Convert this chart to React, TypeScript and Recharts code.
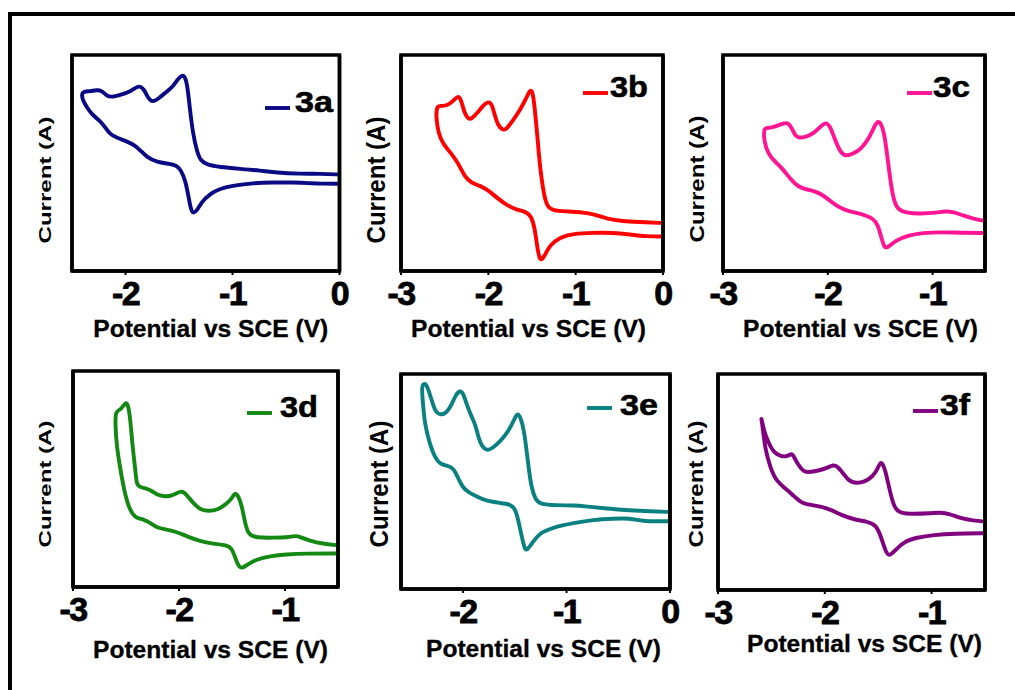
import React from 'react';
import { LineChart, Line, XAxis, YAxis, ReferenceArea } from 'recharts';

const FONT = '"Liberation Sans", Arial, Helvetica, sans-serif';

// ---------- data (potential in V vs SCE, current in arbitrary units) ----------
const potential3a = [0, -0.18, -0.37, -0.59, -0.74, -0.93, -1.12, -1.24, -1.30, -1.33, -1.37, -1.40, -1.42, -1.44, -1.47, -1.51, -1.55, -1.62, -1.68, -1.73, -1.77, -1.80, -1.83, -1.87, -1.91, -1.97, -2.05, -2.13, -2.18, -2.22, -2.27, -2.33, -2.39, -2.41, -2.40, -2.36, -2.32, -2.24, -2.19, -2.15, -2.08, -1.99, -1.91, -1.86, -1.80, -1.71, -1.58, -1.52, -1.48, -1.44, -1.41, -1.39, -1.37, -1.33, -1.29, -1.21, -1.12, -0.99, -0.81, -0.62, -0.43, -0.28, -0.18, 0];
const current3a = [44.7, 45.0, 45.0, 45.5, 46.5, 47.3, 48.1, 49.2, 51.2, 55.0, 63.5, 75.8, 85.1, 89.7, 90.9, 88.9, 85.8, 82.7, 80.4, 78.4, 78.9, 81.2, 84.3, 85.8, 84.7, 82.7, 81.5, 80.4, 81.2, 83.5, 83.8, 83.2, 83.1, 82.0, 78.9, 75.8, 72.7, 69.6, 66.6, 63.5, 61.6, 60.1, 58.1, 55.8, 52.7, 50.4, 49.6, 48.8, 46.5, 41.9, 34.2, 28.8, 26.5, 28.0, 31.9, 35.7, 38.1, 39.6, 40.7, 41.0, 41.0, 40.7, 40.4, 40.4];

const potential3b = [0, -0.27, -0.46, -0.65, -0.80, -0.95, -1.11, -1.26, -1.32, -1.36, -1.41, -1.44, -1.47, -1.49, -1.52, -1.56, -1.64, -1.72, -1.79, -1.83, -1.89, -1.93, -1.96, -2.00, -2.06, -2.12, -2.19, -2.23, -2.27, -2.31, -2.34, -2.38, -2.44, -2.52, -2.59, -2.60, -2.57, -2.52, -2.42, -2.34, -2.27, -2.19, -2.10, -2.00, -1.91, -1.79, -1.68, -1.56, -1.51, -1.47, -1.44, -1.41, -1.36, -1.30, -1.18, -1.03, -0.80, -0.57, -0.38, -0.19, 0];
const current3b = [22.2, 22.7, 23.0, 24.2, 26.5, 27.3, 27.6, 28.0, 29.6, 34.2, 48.1, 63.5, 75.8, 82.7, 84.3, 80.4, 74.3, 69.6, 65.8, 65.0, 67.3, 72.7, 77.3, 78.6, 76.6, 73.5, 70.4, 70.4, 72.7, 78.9, 81.2, 79.7, 77.3, 76.1, 77.0, 71.2, 63.5, 58.9, 54.2, 49.6, 43.5, 40.7, 39.6, 37.3, 34.2, 30.4, 28.4, 27.3, 25.3, 20.3, 11.1, 4.2, 6.5, 11.9, 15.7, 17.3, 17.7, 17.7, 16.9, 16.0, 16.0];

const potential3c = [-0.50, -0.61, -0.71, -0.80, -0.88, -0.96, -1.12, -1.24, -1.34, -1.38, -1.42, -1.45, -1.48, -1.52, -1.56, -1.60, -1.68, -1.76, -1.84, -1.89, -1.94, -1.98, -2.02, -2.06, -2.14, -2.22, -2.28, -2.31, -2.34, -2.38, -2.43, -2.50, -2.57, -2.61, -2.61, -2.57, -2.50, -2.43, -2.36, -2.28, -2.19, -2.09, -2.00, -1.90, -1.81, -1.68, -1.56, -1.52, -1.49, -1.46, -1.42, -1.35, -1.24, -1.09, -0.93, -0.74, -0.50];
const current3c = [23.1, 24.2, 25.7, 27.3, 27.7, 27.0, 26.5, 26.8, 28.4, 34.2, 48.1, 60.4, 67.3, 70.0, 66.6, 61.9, 56.5, 54.2, 53.0, 55.8, 61.9, 67.3, 68.9, 67.3, 63.5, 61.9, 61.6, 62.7, 65.8, 68.9, 68.2, 66.9, 66.1, 66.3, 60.4, 54.2, 50.4, 47.3, 42.7, 38.8, 37.6, 36.5, 33.4, 29.6, 27.7, 26.5, 24.2, 21.1, 15.7, 10.3, 11.1, 14.2, 16.5, 17.7, 18.0, 17.7, 17.6];

const potential3d = [-0.52, -0.64, -0.77, -0.86, -0.89, -0.95, -1.11, -1.27, -1.35, -1.38, -1.41, -1.44, -1.47, -1.50, -1.55, -1.63, -1.72, -1.80, -1.86, -1.93, -1.97, -2.02, -2.08, -2.15, -2.21, -2.26, -2.30, -2.37, -2.40, -2.41, -2.44, -2.46, -2.48, -2.50, -2.52, -2.55, -2.60, -2.60, -2.59, -2.55, -2.51, -2.46, -2.41, -2.33, -2.27, -2.21, -2.12, -2.02, -1.93, -1.80, -1.68, -1.55, -1.50, -1.47, -1.44, -1.41, -1.36, -1.27, -1.14, -0.99, -0.80, -0.52];
const current3d = [19.4, 20.0, 21.5, 23.1, 23.8, 23.1, 22.8, 22.8, 24.3, 30.5, 38.2, 42.0, 43.8, 41.2, 38.5, 35.8, 35.1, 35.8, 38.5, 42.8, 44.6, 43.5, 42.0, 42.0, 42.8, 44.6, 45.5, 46.2, 47.4, 53.5, 65.8, 78.2, 84.3, 85.5, 84.3, 82.0, 81.5, 75.1, 65.8, 53.5, 42.8, 35.1, 32.0, 31.2, 29.7, 27.4, 26.6, 25.5, 23.5, 21.2, 20.0, 19.4, 17.8, 13.5, 9.7, 8.5, 10.2, 12.8, 14.3, 15.1, 15.5, 15.5];

const potential3e = [0, -0.19, -0.39, -0.61, -0.81, -0.93, -1.10, -1.26, -1.30, -1.34, -1.37, -1.40, -1.43, -1.47, -1.50, -1.56, -1.64, -1.72, -1.77, -1.82, -1.85, -1.88, -1.92, -1.97, -2.00, -2.03, -2.07, -2.11, -2.16, -2.22, -2.27, -2.30, -2.34, -2.36, -2.38, -2.40, -2.39, -2.37, -2.32, -2.27, -2.22, -2.16, -2.09, -2.05, -2.00, -1.95, -1.87, -1.77, -1.64, -1.55, -1.50, -1.47, -1.43, -1.40, -1.37, -1.32, -1.26, -1.13, -0.93, -0.74, -0.55, -0.39, -0.26, -0.13, 0];
const current3e = [35.8, 36.1, 36.6, 37.4, 38.4, 38.9, 38.9, 39.5, 41.6, 47.0, 57.8, 70.2, 78.0, 82.3, 79.5, 73.3, 68.7, 65.3, 64.3, 66.4, 70.2, 76.4, 80.3, 86.5, 91.2, 92.4, 90.4, 85.7, 81.9, 80.8, 82.6, 87.3, 93.5, 95.3, 95.5, 94.3, 87.3, 76.4, 67.1, 60.9, 58.1, 57.5, 56.3, 51.6, 47.0, 45.1, 43.1, 40.8, 40.0, 39.5, 37.7, 33.0, 23.7, 17.5, 18.8, 22.2, 26.0, 28.7, 30.7, 32.2, 32.7, 33.0, 31.5, 31.5, 31.5];

const potential3f = [-0.50, -0.61, -0.73, -0.83, -0.92, -1.01, -1.17, -1.29, -1.35, -1.39, -1.43, -1.46, -1.48, -1.51, -1.55, -1.63, -1.71, -1.77, -1.83, -1.88, -1.92, -1.97, -2.06, -2.16, -2.20, -2.25, -2.29, -2.31, -2.35, -2.41, -2.47, -2.51, -2.56, -2.58, -2.60, -2.58, -2.56, -2.51, -2.45, -2.37, -2.30, -2.22, -2.13, -2.03, -1.94, -1.85, -1.72, -1.60, -1.52, -1.48, -1.43, -1.40, -1.35, -1.26, -1.14, -0.98, -0.79, -0.50];
const current3f = [31.7, 32.1, 33.2, 35.2, 36.0, 35.5, 35.2, 35.4, 37.9, 45.6, 54.9, 58.7, 59.2, 55.6, 52.6, 49.9, 49.5, 50.2, 54.1, 57.2, 58.0, 56.7, 55.2, 54.4, 54.9, 58.0, 61.8, 63.4, 61.8, 61.8, 63.4, 66.5, 71.9, 76.5, 80.8, 75.0, 65.7, 56.4, 50.2, 47.1, 44.0, 40.2, 39.4, 38.6, 37.1, 34.8, 32.5, 31.7, 30.1, 25.5, 17.8, 15.5, 17.8, 22.4, 24.3, 25.5, 26.1, 26.3];

// tick values
const ticksFrom3 = [-3, -2, -1, 0];
const ticksFrom2 = [-2, -1, 0];
const ticksTo1 = [-3, -2, -1];
const currentTicksFine = [10, 20, 30, 40, 50, 60, 70, 80, 90];
const currentTicksCoarse = [20, 40, 60, 80];

const seriesNames = ['3a', '3b', '3c', '3d', '3e', '3f'];
const xTitle = 'Potential vs SCE (V)';
const yTitle = 'Current (A)';

// ---------- layout / style ----------
type PanelCfg = {
  name: string;
  potential: number[];
  current: number[];
  color: string;
  domain: [number, number];
  ticks: number[];
  yTicks: number[];
  L: number; T: number; R: number; B: number;
  xtDx: number; xtDy: number;
  ytX: number; ytY: number; ytFs: number;
  lgX1: number; lgY: number; lgTx: number; lgTb: number; lgW: number;
};

const panels: PanelCfg[] = [
  { name: seriesNames[0], potential: potential3a, current: current3a, color: '#0a0a84', domain: [-2.5, 0], ticks: ticksFrom2, yTicks: currentTicksFine,
    L: 72, T: 55, R: 339.5, B: 271, xtDx: 5, xtDy: 66, ytX: 51, ytY: 180, ytFs: 17, lgX1: 265, lgY: 108, lgTx: 295, lgTb: 112, lgW: 38 },
  { name: seriesNames[1], potential: potential3b, current: current3b, color: '#ff0000', domain: [-3, 0], ticks: ticksFrom3, yTicks: currentTicksFine,
    L: 401, T: 55, R: 663, B: 271, xtDx: -3.5, xtDy: 66, ytX: 385, ytY: 180, ytFs: 25, lgX1: 583, lgY: 93, lgTx: 610, lgTb: 97, lgW: 38 },
  { name: seriesNames[2], potential: potential3c, current: current3c, color: '#ff1493', domain: [-3, -0.5], ticks: ticksTo1, yTicks: currentTicksCoarse,
    L: 723, T: 55, R: 985, B: 271, xtDx: 6.5, xtDy: 66, ytX: 703.5, ytY: 179, ytFs: 21, lgX1: 907, lgY: 93, lgTx: 933, lgTb: 97, lgW: 37 },
  { name: seriesNames[3], potential: potential3d, current: current3d, color: '#138813', domain: [-3, -0.5], ticks: ticksTo1, yTicks: currentTicksFine,
    L: 73, T: 371, R: 338, B: 587, xtDx: 5, xtDy: 71, ytX: 51, ytY: 484, ytFs: 17, lgX1: 247, lgY: 413, lgTx: 280, lgTb: 417, lgW: 38 },
  { name: seriesNames[4], potential: potential3e, current: current3e, color: '#0a8080', domain: [-2.6, 0], ticks: ticksFrom2, yTicks: currentTicksFine,
    L: 401, T: 374, R: 670, B: 589, xtDx: 8, xtDy: 68, ytX: 387.5, ytY: 484, ytFs: 25, lgX1: 587, lgY: 408, lgTx: 620, lgTb: 415, lgW: 38 },
  { name: seriesNames[5], potential: potential3f, current: current3f, color: '#800080', domain: [-3, -0.5], ticks: ticksTo1, yTicks: currentTicksCoarse,
    L: 718, T: 374, R: 985, B: 590, xtDx: 13, xtDy: 62, ytX: 702.5, ytY: 484, ytFs: 21, lgX1: 913, lgY: 411, lgTx: 940, lgTb: 415, lgW: 30 },
];

const XTick = (props: any) => {
  const { x, y, payload } = props;
  return (
    <text x={x} y={y} dy={24} textAnchor="middle" fontFamily={FONT} fontWeight={700} fontSize={34} letterSpacing={-1.5}
      fill="#000" stroke="#000" strokeWidth={0.8}>
      {String(payload.value)}
    </text>
  );
};

const M_L = 70, M_T = 20, M_R = 25, X_H = 95;

function Panel({ p }: { p: PanelCfg }) {
  const n = Math.min(p.potential.length, p.current.length);
  const data = [] as { potential: number; current: number }[];
  for (let i = 0; i < n; i++) data.push({ potential: p.potential[i], current: p.current[i] });
  const w = (p.R - p.L) + M_L + M_R;
  const h = (p.B - p.T) + M_T + X_H;
  return (
    <div style={{ position: 'absolute', left: p.L - M_L, top: p.T - M_T }}>
      <LineChart width={w} height={h} data={data} margin={{ top: M_T, right: M_R, left: M_L, bottom: 0 }}>
        <XAxis dataKey="potential" type="number" domain={p.domain} ticks={p.ticks} interval={0} allowDataOverflow
          height={X_H} tickSize={4} tickMargin={6} tick={<XTick />}
          tickLine={{ stroke: '#000', strokeWidth: 2 }} axisLine={{ stroke: '#000', strokeWidth: 3.5 }} />
        <YAxis type="number" domain={[0, 100]} ticks={p.yTicks} interval={0} allowDataOverflow mirror
          width={40} tick={false} tickSize={3} tickLine={{ stroke: '#000', strokeWidth: 2 }} axisLine={{ stroke: '#000', strokeWidth: 3.5 }} />
        <YAxis yAxisId="r" orientation="right" type="number" domain={[0, 100]} ticks={p.yTicks} interval={0} allowDataOverflow mirror
          width={40} tick={false} tickSize={3} tickLine={{ stroke: '#000', strokeWidth: 2 }} axisLine={{ stroke: '#000', strokeWidth: 3.5 }} />
        <ReferenceArea x1={p.domain[0]} x2={p.domain[1]} y1={0} y2={100} fill="none" fillOpacity={0} stroke="#000" strokeWidth={3.5} ifOverflow="visible" />
        <Line type="basis" dataKey="current" name={p.name} stroke={p.color} strokeWidth={3.9} dot={false}
          activeDot={false} isAnimationActive={false} strokeLinejoin="round" strokeLinecap="round" />
      </LineChart>
    </div>
  );
}

function Texts() {
  return (
    <svg width={1015} height={690} style={{ position: 'absolute', left: 0, top: 0, pointerEvents: 'none' }}>
      {panels.map((p) => {
        const cx = (p.L + p.R) / 2 + p.xtDx;
        return (
          <g key={p.name}>
            <text x={cx} y={p.B + p.xtDy} textAnchor="middle" fontFamily={FONT} fontWeight={700} fontSize={23}
              textLength={235} lengthAdjust="spacingAndGlyphs" fill="#000" stroke="#000" strokeWidth={0.3}>{xTitle}</text>
            <text x={p.ytX} y={p.ytY} transform={`rotate(-90 ${p.ytX} ${p.ytY})`} textAnchor="middle" fontFamily={FONT}
              fontWeight={700} fontSize={p.ytFs} textLength={127} lengthAdjust="spacingAndGlyphs" fill="#000">{yTitle}</text>
            <line x1={p.lgX1} x2={p.lgX1 + 25} y1={p.lgY} y2={p.lgY} stroke={p.color} strokeWidth={3.9} />
            <text x={p.lgTx} y={p.lgTb} fontFamily={FONT} fontWeight={700} fontSize={30} textLength={p.lgW}
              lengthAdjust="spacingAndGlyphs" fill="#000" stroke="#000" strokeWidth={0.6}>{p.name}</text>
          </g>
        );
      })}
    </svg>
  );
}

export default function App() {
  return (
    <div style={{ position: 'absolute', left: 0, top: 0, width: 1015, height: 690, overflow: 'hidden', background: '#fff', fontFamily: FONT }}>
      <div style={{ position: 'absolute', left: 8, top: 12, width: 1100, height: 800, borderLeft: '4px solid #000', borderTop: '4px solid #000' }} />
      {panels.map((p) => <Panel key={p.name} p={p} />)}
      <Texts />
    </div>
  );
}
